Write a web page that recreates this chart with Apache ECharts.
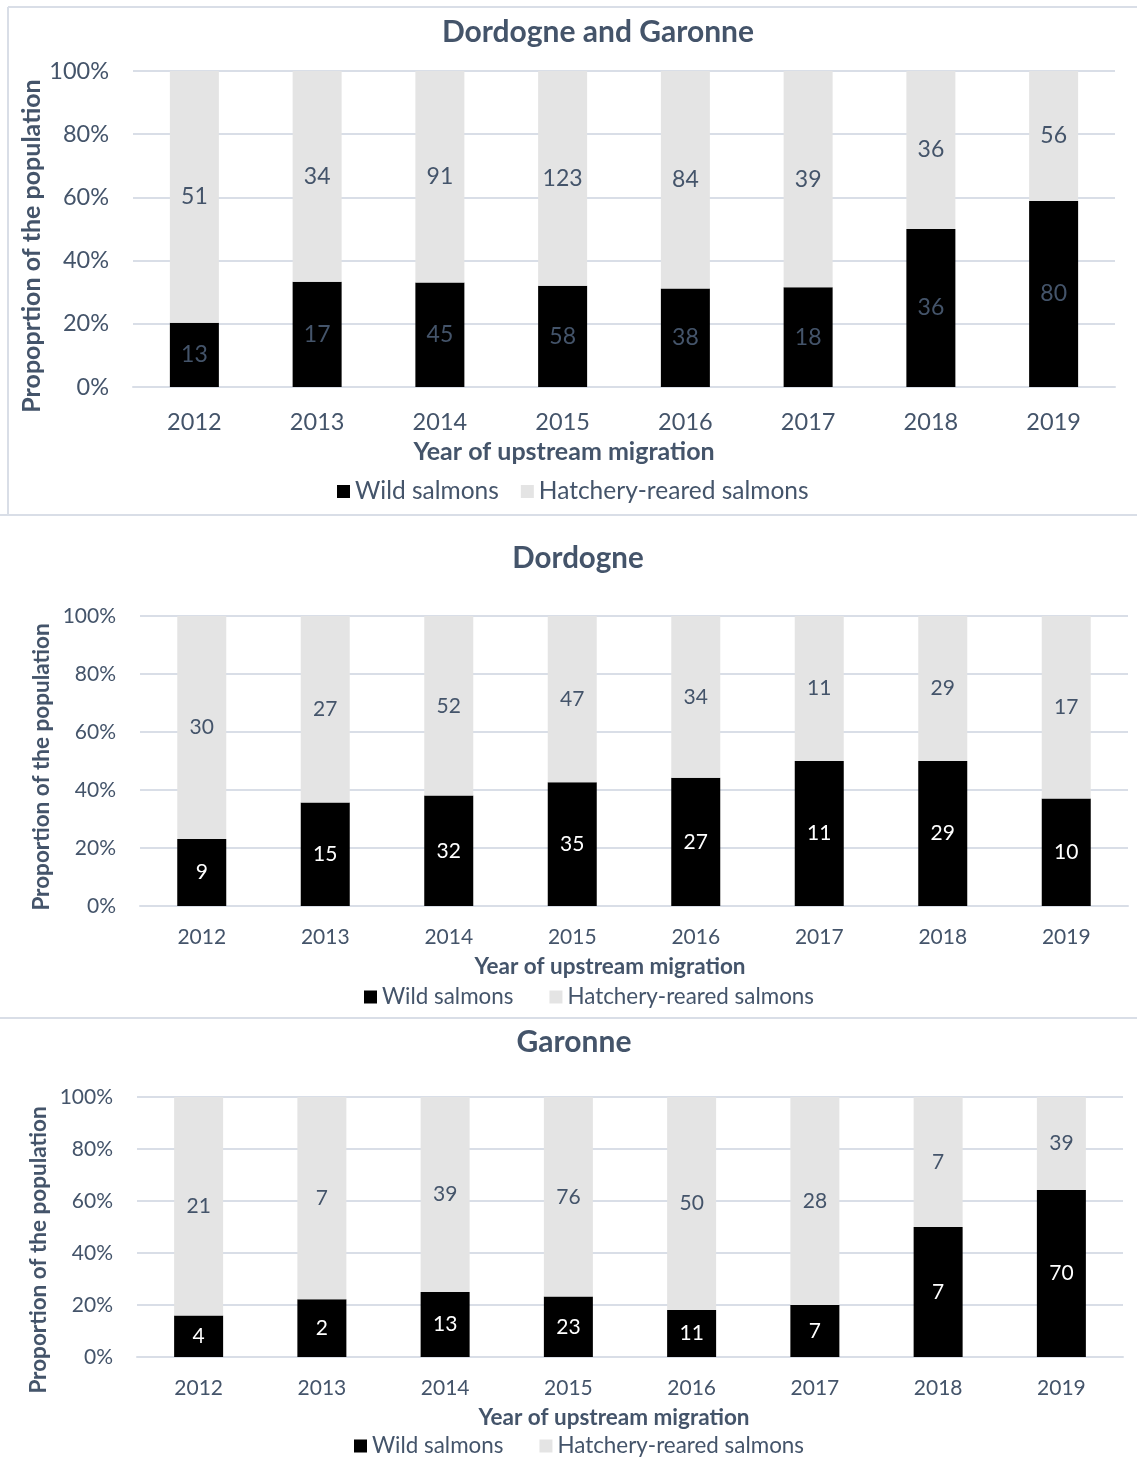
<!DOCTYPE html>
<html>
<head>
<meta charset="utf-8">
<script src="https://cdn.jsdelivr.net/npm/echarts@6/dist/echarts.min.js"></script>
<style>
html,body{margin:0;padding:0;background:#fff;}
#chart{width:1137px;height:1461px;}
</style>
</head>
<body>
<div id="chart"></div>
<script>
const years = ['2012','2013','2014','2015','2016','2017','2018','2019'];
const allWild  = [13,17,45,58,38,18,36,80];
const allHatch = [51,34,91,123,84,39,36,56];
const dorWild  = [9,15,32,35,27,11,29,10];
const dorHatch = [30,27,52,47,34,11,29,17];
const garWild  = [4,2,13,23,11,7,7,70];
const garHatch = [21,7,39,76,50,28,7,39];
const yTicks = [0,20,40,60,80,100];

const TXT = '#44546A';
const GRIDC = '#D9DEE7';
const FONT = 'Lato';

function pct(a, b){ return a.map((v,i)=> v/(v+b[i])*100); }

const panels = [
  {title:'Dordogne and Garonne', wild:allWild, hatch:allHatch, yName:'Propoprtion of the population',
   grid:{left:133,right:22,top:71,height:316}, fs:23.5, nfs:25, lfs:24.5, bfs:23, tfs:30, titleLeft:593, titleTop:12,
   wildLabel:TXT, yGap:89, yPad:[0,34,0,0], xPad:[0,120,0,0], xGap:52, xMargin:23,
   legendLeft:332, legendTop:474, legendGap:22},
  {title:'Dordogne', wild:dorWild, hatch:dorHatch, yName:'Proportion of the population',
   grid:{left:140,right:9,top:616,height:290}, fs:21, nfs:22.5, lfs:22.4, bfs:21, tfs:29.5, titleLeft:573, titleTop:538,
   wildLabel:'#FFFFFF', yGap:87, yPad:[0,12,0,0], xPad:[0,48,0,0], xGap:49, xMargin:21,
   legendLeft:359, legendTop:981, legendGap:36},
  {title:'Garonne', wild:garWild, hatch:garHatch, yName:'Proportion of the population',
   grid:{left:137,right:14,top:1097,height:260}, fs:21, nfs:22.5, lfs:22.4, bfs:21, tfs:30, titleLeft:569, titleTop:1022,
   wildLabel:'#FFFFFF', yGap:87, yPad:[0,46,0,0], xPad:[0,32,0,0], xGap:49, xMargin:21,
   legendLeft:349, legendTop:1430, legendGap:36}
];

const option = {
  animation:false,
  backgroundColor:'#fff',
  textStyle:{fontFamily:FONT},
  title:[], grid:[], xAxis:[], yAxis:[], series:[], legend:[],
  graphic:[
    {type:'line', shape:{x1:8,y1:7,x2:1137,y2:7}, style:{stroke:GRIDC,lineWidth:2}, silent:true},
    {type:'line', shape:{x1:8,y1:7,x2:8,y2:515}, style:{stroke:GRIDC,lineWidth:2}, silent:true},
    {type:'line', shape:{x1:0,y1:515,x2:1137,y2:515}, style:{stroke:GRIDC,lineWidth:2}, silent:true},
    {type:'line', shape:{x1:0,y1:1018,x2:1137,y2:1018}, style:{stroke:GRIDC,lineWidth:2}, silent:true}
  ]
};

panels.forEach((p, i) => {
  option.title.push({text:p.title, left:p.titleLeft, top:p.titleTop, textAlign:'center',
    textStyle:{color:TXT, fontFamily:FONT, fontWeight:'bold', fontSize:p.tfs}});
  option.grid.push(Object.assign({containLabel:false}, p.grid));
  option.xAxis.push({type:'category', gridIndex:i, data:years,
    name:'Year of upstream migration', nameLocation:'middle', nameGap:p.xGap, nameMoveOverlap:false,
    nameTextStyle:{color:TXT, fontFamily:FONT, fontWeight:'bold', fontSize:p.nfs, padding:p.xPad},
    axisLine:{show:true, lineStyle:{color:GRIDC, width:2}}, axisTick:{show:false},
    axisLabel:{color:TXT, fontFamily:FONT, fontSize:p.fs, margin:p.xMargin}});
  option.yAxis.push({type:'value', gridIndex:i, min:0, max:100, interval:20,
    name:p.yName, nameLocation:'middle', nameRotate:90, nameGap:p.yGap, nameMoveOverlap:false,
    nameTextStyle:{color:TXT, fontFamily:FONT, fontWeight:'bold', fontSize:p.nfs, padding:p.yPad},
    axisLine:{show:false}, axisTick:{show:false},
    splitLine:{lineStyle:{color:GRIDC, width:2}},
    axisLabel:{color:TXT, fontFamily:FONT, fontSize:p.fs, margin:24,
      formatter:(v)=> yTicks.includes(v) ? v + '%' : ''}});
  const wp = pct(p.wild, p.hatch), hp = pct(p.hatch, p.wild);
  option.series.push({name:'Wild salmons', type:'bar', stack:'s'+i, xAxisIndex:i, yAxisIndex:i,
    data:wp, barWidth:49, itemStyle:{color:'#000000'},
    label:{show:true, position:'inside', color:p.wildLabel, fontFamily:FONT, fontSize:p.bfs,
      formatter:(d)=> String(p.wild[d.dataIndex])},
    emphasis:{disabled:true}});
  option.series.push({name:'Hatchery-reared salmons', type:'bar', stack:'s'+i, xAxisIndex:i, yAxisIndex:i,
    data:hp, barWidth:49, itemStyle:{color:'#E4E4E4'},
    label:{show:true, position:'inside', color:TXT, fontFamily:FONT, fontSize:p.bfs,
      formatter:(d)=> String(p.hatch[d.dataIndex])},
    emphasis:{disabled:true}});
  option.legend.push({left:p.legendLeft, top:p.legendTop, icon:'rect', itemWidth:13, itemHeight:13,
    itemGap:p.legendGap, selectedMode:false, data:['Wild salmons','Hatchery-reared salmons'],
    textStyle:{color:TXT, fontFamily:FONT, fontSize:p.lfs}});
});

const chart = echarts.init(document.getElementById('chart'), null, {renderer:'canvas'});
chart.setOption(option);
</script>
</body>
</html>
